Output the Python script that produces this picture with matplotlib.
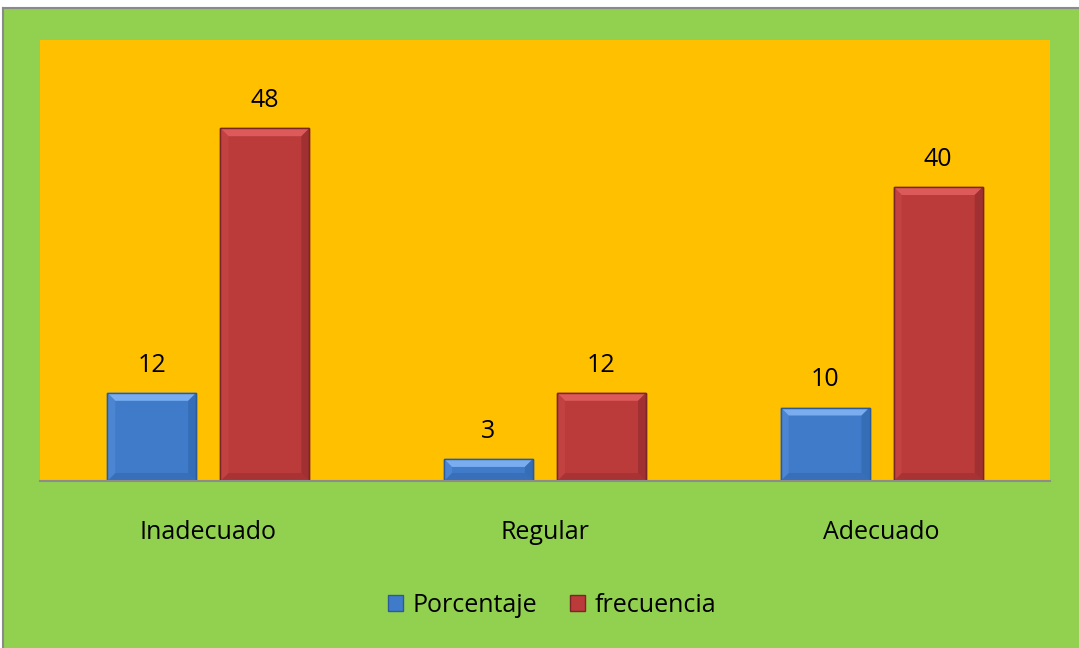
import matplotlib
matplotlib.use("Agg")
import matplotlib.pyplot as plt
import numpy as np
from matplotlib.patches import Rectangle, Polygon

categories = ["Inadecuado", "Regular", "Adecuado"]
series_names = ["Porcentaje", "frecuencia"]
porcentaje = [12, 3, 10]
frecuencia = [48, 12, 40]

W, H = 1079, 648
fig = plt.figure(figsize=(W / 100, H / 100), dpi=100)
fig.patch.set_facecolor("white")
plt.rcParams['font.family'] = ['Open Sans', 'DejaVu Sans']
FS = 18

# outer green chart area
bg = Rectangle((3 / W, 0), 1 - 3 / W, 1 - 8 / H, transform=fig.transFigure,
               facecolor="#92D050", edgecolor="none", zorder=0)
fig.add_artist(bg)
fig.add_artist(plt.Line2D([3 / W, 1], [1 - 8 / H, 1 - 8 / H], transform=fig.transFigure,
                          color="#8a8a8a", lw=1.5, zorder=1))
fig.add_artist(plt.Line2D([3 / W, 3 / W], [0, 1 - 8 / H], transform=fig.transFigure,
                          color="#8a8a8a", lw=1.5, zorder=1))

ax_l, ax_r, ax_t, ax_b = 40, 1050, 40, 481
ax = fig.add_axes([ax_l / W, 1 - ax_b / H, (ax_r - ax_l) / W, (ax_b - ax_t) / H])
ax.set_facecolor("#FFC000")
ax.set_xlim(-0.5, 2.5)
ax.set_ylim(0, 60)
x = np.arange(len(categories))
bw = 0.264
off = 0.168
b1 = ax.bar(x - off, porcentaje, bw, color="#3f7bc9", edgecolor="#2c5b99", lw=1.0, zorder=3)
b2 = ax.bar(x + off, frecuencia, bw, color="#bb3b3b", edgecolor="#7a2526", lw=1.0, zorder=3)

# bevel effect
px_x = 3.0 / (ax_r - ax_l)   # data units per pixel in x
px_y = 60.0 / (ax_b - ax_t)  # data units per pixel in y
bev = 8
styles = {
    "b": dict(top="#79adf0", left="#5a92dc", right="#2f64aa", bottom="#3468ad"),
    "r": dict(top="#dc5b5a", left="#c94a4a", right="#8e2a2b", bottom="#9c2f30"),
}
for bars, key in ((b1, "b"), (b2, "r")):
    st = styles[key]
    for r in bars:
        x0, w, h = r.get_x(), r.get_width(), r.get_height()
        x1 = x0 + w
        dx = bev * px_x
        dy = min(bev * px_y, h / 2)
        ax.add_patch(Polygon([(x0, h), (x1, h), (x1 - dx, h - dy), (x0 + dx, h - dy)],
                             closed=True, facecolor=st["top"], edgecolor="none", zorder=4))
        ax.add_patch(Polygon([(x0, 0), (x1, 0), (x1 - dx, dy), (x0 + dx, dy)],
                             closed=True, facecolor=st["bottom"], edgecolor="none", zorder=4, alpha=0.6))
        ax.add_patch(Polygon([(x0, 0), (x0, h), (x0 + dx, h - dy), (x0 + dx, dy)],
                             closed=True, facecolor=st["left"], edgecolor="none", zorder=4, alpha=0.5))
        ax.add_patch(Polygon([(x1, 0), (x1, h), (x1 - dx, h - dy), (x1 - dx, dy)],
                             closed=True, facecolor=st["right"], edgecolor="none", zorder=4, alpha=0.6))
        ax.add_patch(Rectangle((x0, 0), w, h, facecolor="none", edgecolor=r.get_edgecolor(),
                               lw=1.0, zorder=5))

for bars in (b1, b2):
    for r in bars:
        ax.annotate(f"{int(r.get_height())}", (r.get_x() + r.get_width() / 2, r.get_height()),
                    xytext=(0, 11), textcoords="offset points", ha="center", va="bottom",
                    fontsize=FS, color="black")

ax.set_yticks([])
ax.set_xticks(x)
ax.set_xticklabels(categories, fontsize=FS)
ax.tick_params(axis="x", length=0, pad=28)
for s in ("top", "right", "left"):
    ax.spines[s].set_visible(False)
ax.spines["bottom"].set_color("#8c8c8c")
ax.spines["bottom"].set_linewidth(1.5)
ax.spines["bottom"].set_zorder(6)

handles = [Rectangle((0, 0), 1, 1, facecolor="#3f7bc9", edgecolor="#2c5b99"),
           Rectangle((0, 0), 1, 1, facecolor="#bb3b3b", edgecolor="#7a2526")]
fig.legend(handles, series_names, loc="center", bbox_to_anchor=(552 / W, 1 - 605 / H),
           ncol=2, frameon=False, fontsize=FS, handlelength=0.6, handleheight=0.6,
           handletextpad=0.4, columnspacing=1.3)

fig.savefig("out.png", dpi=100, facecolor=fig.get_facecolor())
